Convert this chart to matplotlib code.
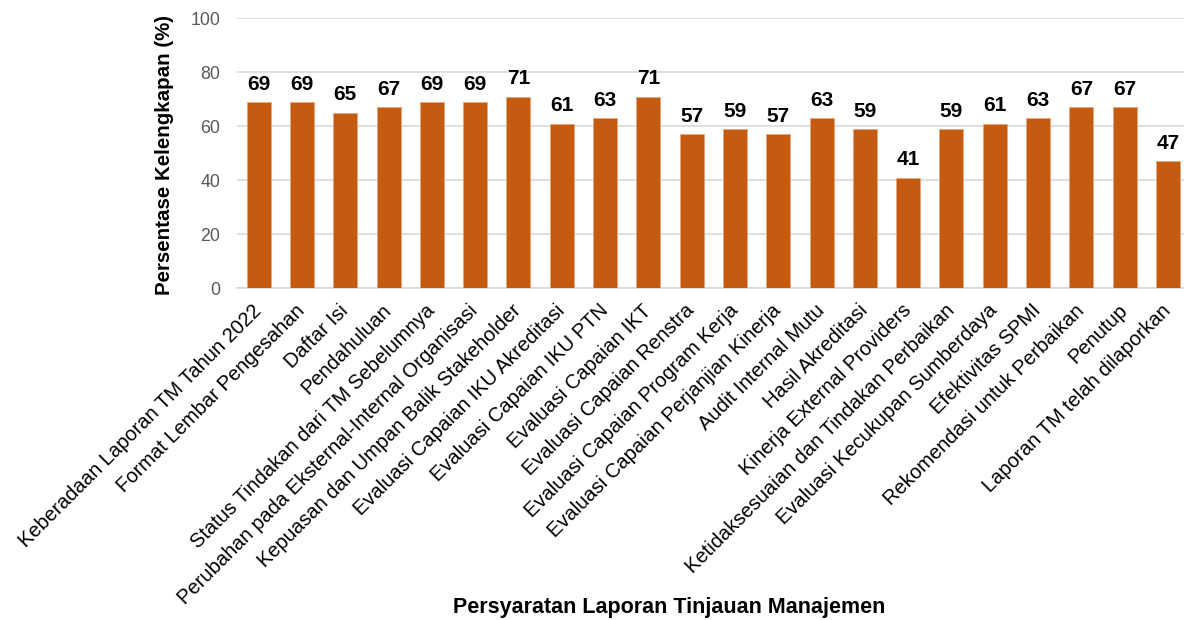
import matplotlib
matplotlib.use("Agg")
import matplotlib.pyplot as plt
import numpy as np

categories = [
    "Keberadaan Laporan TM Tahun 2022",
    "Format Lembar Pengesahan",
    "Daftar Isi",
    "Pendahuluan",
    "Status Tindakan dari TM Sebelumnya",
    "Perubahan pada Eksternal-Internal Organisasi",
    "Kepuasan dan Umpan Balik Stakeholder",
    "Evaluasi Capaian IKU Akreditasi",
    "Evaluasi Capaian IKU PTN",
    "Evaluasi Capaian IKT",
    "Evaluasi Capaian Renstra",
    "Evaluasi Capaian Program Kerja",
    "Evaluasi Capaian Perjanjian Kinerja",
    "Audit Internal Mutu",
    "Hasil Akreditasi",
    "Kinerja External Providers",
    "Ketidaksesuaian dan Tindakan Perbaikan",
    "Evaluasi Kecukupan Sumberdaya",
    "Efektivitas SPMI",
    "Rekomendasi untuk Perbaikan",
    "Penutup",
    "Laporan TM telah dilaporkan",
]
values = [69, 69, 65, 67, 69, 69, 71, 61, 63, 71, 57, 59, 57, 63, 59, 41, 59, 61, 63, 67, 67, 47]
y_ticks = [0, 20, 40, 60, 80, 100]

plt.rcParams['font.family'] = ['Liberation Sans', 'DejaVu Sans']

W, H = 1184, 620
fig = plt.figure(figsize=(W / 100, H / 100), dpi=100)
left, right = 237, 1189.6
bottom, top = 288.3, 18.3
ax = fig.add_axes([left / W, 1 - bottom / H, (right - left) / W, (bottom - top) / H])

x = np.arange(len(categories))
ax.bar(x, values, width=0.555, color="#C55A11", edgecolor="#E8A77E", linewidth=0.6, zorder=3)

for xi, v in zip(x, values):
    ax.annotate(f"{v}", (xi, v), xytext=(0, 6), textcoords="offset points",
                ha="center", va="bottom", fontsize=15, fontweight="bold", color="black")

ax.set_xlim(-0.5, len(categories) - 0.5)
ax.set_ylim(0, 100)
ax.set_yticks(y_ticks)
ax.set_yticklabels([str(t) for t in y_ticks], fontsize=12.8, color="#595959")
ax.yaxis.grid(True, color="#D9D9D9", linewidth=1.2, zorder=0)
ax.set_axisbelow(True)
for s in ["top", "right", "left"]:
    ax.spines[s].set_visible(False)
ax.spines["bottom"].set_color("#D9D9D9")
ax.spines["bottom"].set_linewidth(1.2)
ax.tick_params(axis="y", length=0, pad=12)
ax.tick_params(axis="x", length=0, pad=14)

ax.set_xticks(x)
ax.set_xticklabels(categories, rotation=45, ha="right", va="center",
                   rotation_mode="anchor", fontsize=14.5)

fig.text(165 / W, 1 - 155 / H, "Persentase Kelengkapan (%)", rotation=90,
         ha="center", va="center", fontsize=14.8, fontweight="bold")
fig.text(669 / W, 1 - 607.5 / H, "Persyaratan Laporan Tinjauan Manajemen",
         ha="center", va="center", fontsize=15.5, fontweight="bold")

fig.savefig("out.png", dpi=100, facecolor="white")
